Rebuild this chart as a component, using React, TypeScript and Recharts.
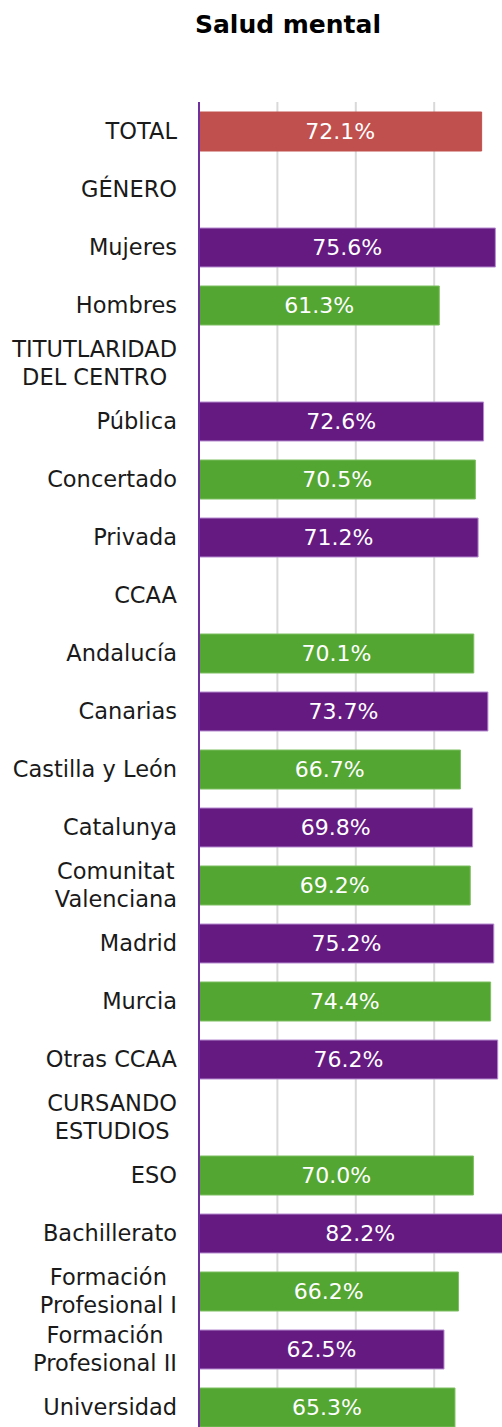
import React from 'react';
import { BarChart, Bar, XAxis, YAxis, CartesianGrid, Cell, LabelList } from 'recharts';

const categories = [
    'TOTAL',
    'GÉNERO',
    'Mujeres',
    'Hombres',
    'TITUTLARIDAD\nDEL CENTRO',
    'Pública',
    'Concertado',
    'Privada',
    'CCAA',
    'Andalucía',
    'Canarias',
    'Castilla y León',
    'Catalunya',
    'Comunitat\nValenciana',
    'Madrid',
    'Murcia',
    'Otras CCAA',
    'CURSANDO\nESTUDIOS',
    'ESO',
    'Bachillerato',
    'Formación\nProfesional I',
    'Formación\nProfesional II',
    'Universidad',
];

const values: (number | null)[] = [
    72.1, null, 75.6, 61.3, null, 72.6, 70.5, 71.2, null, 70.1, 73.7, 66.7,
    69.8, 69.2, 75.2, 74.4, 76.2, null, 70.0, 82.2, 66.2, 62.5, 65.3,
];

// t = total, p = purple, g = green
const kinds = [
    't', '', 'p', 'g', '', 'p', 'g', 'p', '', 'g', 'p', 'g',
    'p', 'g', 'p', 'g', 'p', '', 'g', 'p', 'g', 'p', 'g',
];

const xTicks = [0, 20, 40, 60, 80, 100];

const FILL: Record<string, string> = { t: '#C0504D', p: '#651A81', g: '#54A632', '': 'none' };
const EDGE: Record<string, string> = { t: '#C0504D', p: '#B58BD0', g: '#7DC060', '': 'none' };

const FONT = '"DejaVu Sans", sans-serif';

const data = categories.map((name, i) => ({ name, value: values[i], kind: kinds[i] }));

let ctx: CanvasRenderingContext2D | null = null;
function measure(text: string, size: number) {
    if (!ctx) ctx = document.createElement('canvas').getContext('2d');
    if (!ctx) return text.length * size * 0.6;
    ctx.font = `${size}px ${FONT}`;
    return ctx.measureText(text).width;
}

function CategoryTick(props: any) {
    const { x, y, payload } = props;
    const lines: string[] = String(payload.value).split('\n');
    const size = 22.5;
    const right = x - 22;
    const w = Math.max(...lines.map((l) => measure(l, size)));
    const cx = right - w / 2;
    const lh = 28;
    const top = y - ((lines.length - 1) * lh) / 2;
    return (
        <g>
            {lines.map((l, i) => (
                <text
                    key={i}
                    x={cx}
                    y={top + i * lh}
                    dy="0.36em"
                    textAnchor="middle"
                    fill="#1a1a1a"
                    fontSize={size}
                    fontFamily={FONT}
                >
                    {l}
                </text>
            ))}
        </g>
    );
}

export default function App() {
    return (
        <div style={{ position: 'absolute', top: 0, left: 0, width: 502, height: 1427, overflow: 'hidden', background: '#fff' }}>
            <div
                style={{
                    position: 'absolute',
                    top: 10,
                    left: 0,
                    width: 576,
                    textAlign: 'center',
                    fontFamily: FONT,
                    fontWeight: 700,
                    fontSize: 25,
                    color: '#000',
                }}
            >
                Salud mental
            </div>
            <BarChart
                layout="vertical"
                width={591}
                height={1436}
                data={data}
                margin={{ top: 102, right: 0, bottom: 0, left: 0 }}
                barSize={39}
            >
                <CartesianGrid horizontal={false} stroke="#D9D9D9" strokeWidth={2} />
                <XAxis type="number" domain={[0, 100]} ticks={xTicks} hide />
                <YAxis
                    type="category"
                    dataKey="name"
                    width={199}
                    interval={0}
                    tickLine={false}
                    tickSize={0}
                    tickMargin={0}
                    axisLine={{ stroke: '#7030A0', strokeWidth: 2 }}
                    tick={<CategoryTick />}
                />
                <Bar dataKey="value" isAnimationActive={false}>
                    {data.map((d, i) => (
                        <Cell key={i} fill={FILL[d.kind]} stroke={EDGE[d.kind]} strokeWidth={1} />
                    ))}
                    <LabelList
                        dataKey="value"
                        position="center"
                        fill="#ffffff"
                        fontSize={22}
                        fontFamily={FONT}
                        formatter={(v: any) => (v == null ? '' : `${Number(v).toFixed(1)}%`)}
                    />
                </Bar>
            </BarChart>
        </div>
    );
}
